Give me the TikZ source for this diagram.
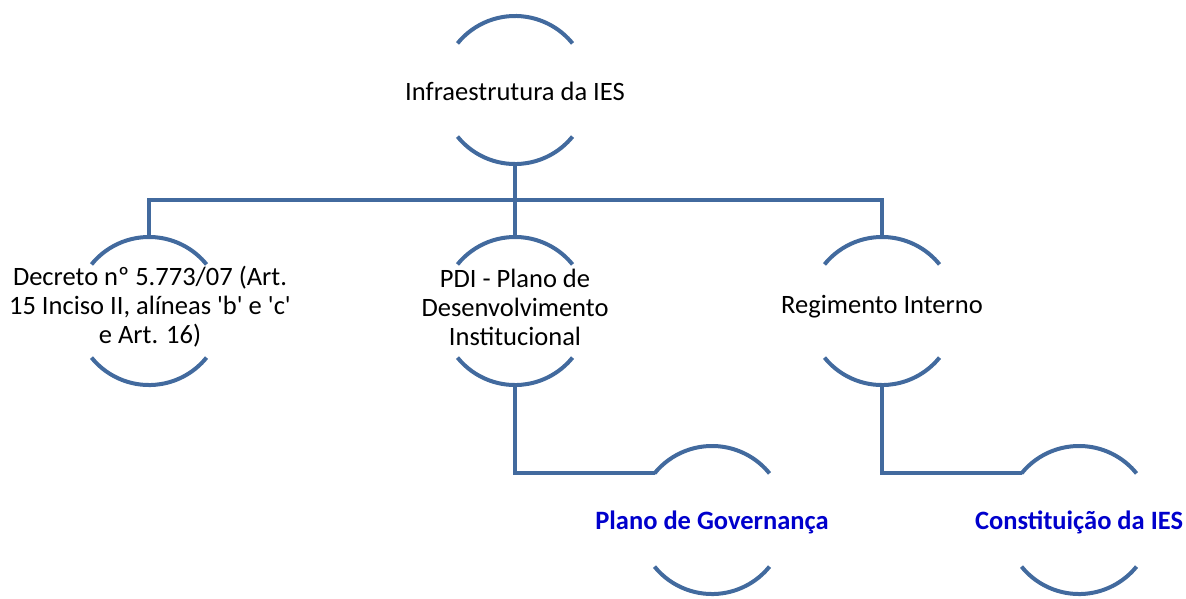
\documentclass[tikz,border=0pt]{standalone}
\usepackage{fontspec}
\setmainfont{Carlito}[Ligatures=TeXOff]
\definecolor{arcblue}{RGB}{66,106,158}
\definecolor{txtblue}{RGB}{0,0,204}
\tikzset{
  arcline/.style={draw=arcblue, line width=4pt},
  conn/.style={draw=arcblue, line width=4pt, line join=miter},
  lbl/.style={font=\fontsize{26.5}{29}\selectfont, align=center, inner sep=0pt, text=black},
  blbl/.style={lbl, font=\fontsize{26.5}{29}\selectfont\bfseries, text=txtblue},
}
% #1 name, #2 x, #3 y (y grows downwards)
\newcommand{\ringarcs}[3]{%
  \coordinate (#1-c) at (#2,#3);
  \coordinate (#1-tl) at ({#2-57.5},{#3-46.6});
  \coordinate (#1-bl) at ({#2-57.5},{#3+46.6});
  \coordinate (#1-top) at (#2,{#3-74});
  \coordinate (#1-bot) at (#2,{#3+74});
  \draw[arcline] (#1-tl) arc[start angle=219, end angle=321, radius=74];
  \draw[arcline] (#1-bl) arc[start angle=141, end angle=39, radius=74];
}
\begin{document}
\begin{tikzpicture}[x=1pt,y=-1pt]
\useasboundingbox (0,0) rectangle (1186,598);
\ringarcs{a}{515}{90}
\ringarcs{b}{149}{311}
\ringarcs{c}{515}{311}
\ringarcs{d}{882}{311}
\ringarcs{e}{712}{520}
\ringarcs{f}{1079}{520}
% texts
\node[lbl] (ta) at (515,91) {Infraestrutura da IES};
\node[lbl] (tb) at (150,307) {Decreto nº 5.773/07 (Art.\\15 Inciso II, alíneas 'b' e 'c'\\e Art. 16)};
\node[lbl] (tc) at (515,307) {PDI - Plano de\\Desenvolvimento\\Institucional};
\node[lbl] (td) at (882,307) {Regimento Interno};
\node[blbl] (te) at (712,522) {Plano de Governança};
\node[blbl] (tf) at (1079,522) {Constituição da IES};
% connectors
\coordinate (bus) at (515,200);
\draw[conn] (a-bot) -- (bus);
\draw[conn] (b-top) |- (bus) -| (d-top);
\draw[conn] (bus) -- (c-top);
\draw[conn] (c-bot) |- (e-tl);
\draw[conn] (d-bot) |- (f-tl);
\end{tikzpicture}
\end{document}
